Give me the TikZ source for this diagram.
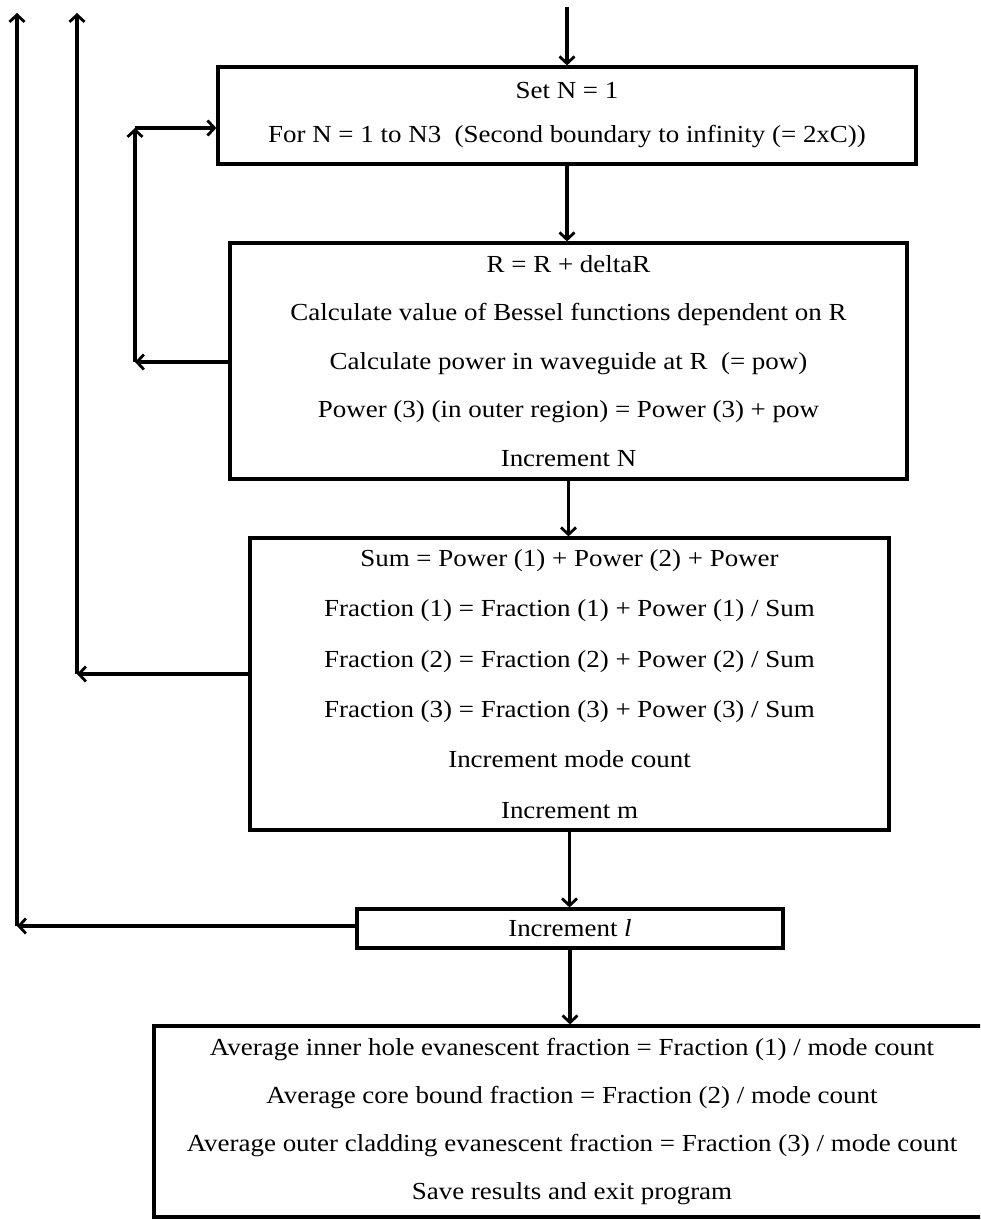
\documentclass[tikz,border=0pt]{standalone}
\usepackage{fontspec}
\setmainfont{Liberation Serif}[FakeStretch=1.1]
\usetikzlibrary{arrows.meta}

\begin{document}
\begin{tikzpicture}[x=1pt,y=1pt,
  line width=3.2pt,
  flowbox/.style={draw, rectangle, align=center, inner sep=0pt},
  arr/.style={-{Straight Barb[length=7pt,width=15pt,line width=2.8pt]}},
]
\useasboundingbox (0,0) rectangle (980,-1220);

% process boxes
\node[flowbox, minimum width=698, minimum height=97,
      font=\fontsize{24.5}{44}\selectfont] (setn) at (567,-115.5)
  {Set N = 1\\For N = 1 to N3\ \ (Second boundary to infinity (= 2xC))};

\node[flowbox, minimum width=677, minimum height=236,
      font=\fontsize{24.5}{48.5}\selectfont] (radius) at (568.5,-361)
  {R = R + deltaR\\
   Calculate value of Bessel functions dependent on R\\
   Calculate power in waveguide at R\ \ (= pow)\\
   Power (3) (in outer region) = Power (3) + pow\\
   Increment N};

\node[flowbox, minimum width=639, minimum height=292,
      font=\fontsize{24.5}{50.4}\selectfont] (sums) at (569.5,-684)
  {Sum = Power (1) + Power (2) + Power\\
   Fraction (1) = Fraction (1) + Power (1) / Sum\\
   Fraction (2) = Fraction (2) + Power (2) / Sum\\
   Fraction (3) = Fraction (3) + Power (3) / Sum\\
   Increment mode count\\
   Increment m};

\node[flowbox, minimum width=426, minimum height=39,
      font=\fontsize{24.5}{28}\selectfont] (incl) at (570,-928.5)
  {Increment \textit{l}};

\begin{scope}
  \clip (0,0) rectangle (980,-1220);
  \node[flowbox, minimum width=836, minimum height=191,
        font=\fontsize{24.5}{48}\selectfont] (results) at (572,-1121.5)
    {Average inner hole evanescent fraction = Fraction (1) / mode count\\
     Average core bound fraction = Fraction (2) / mode count\\
     Average outer cladding evanescent fraction = Fraction (3) / mode count\\
     Save results and exit program};
\end{scope}

% main flow
\coordinate (entry) at (567,-7);
\draw[arr] (entry) -- (setn.north);
\draw[arr] (setn.south) -- (setn.south |- radius.north);
\draw[arr] (radius.south) -- (radius.south |- sums.north);
\draw[arr] (sums.south) -- (sums.south |- incl.north);
\draw[arr] (incl.south) -- (incl.south |- results.north);

% inner loop over N
\coordinate (nlow) at (135,-362);
\coordinate (nhigh) at (135,-128);
\draw[arr] (radius.west |- nlow) -- (nlow);
\draw[arr] (nlow) -- (nhigh);
\draw[arr] (nhigh) -- (nhigh -| setn.west);

% loop over m
\coordinate (mlow) at (77,-674);
\coordinate (mhigh) at (77,-13);
\draw[arr] (sums.west |- mlow) -- (mlow);
\draw[arr] (mlow) -- (mhigh);

% loop over l
\coordinate (llow) at (17,-926);
\coordinate (lhigh) at (17,-13);
\draw[arr] (incl.west |- llow) -- (llow);
\draw[arr] (llow) -- (lhigh);
\end{tikzpicture}
\end{document}
